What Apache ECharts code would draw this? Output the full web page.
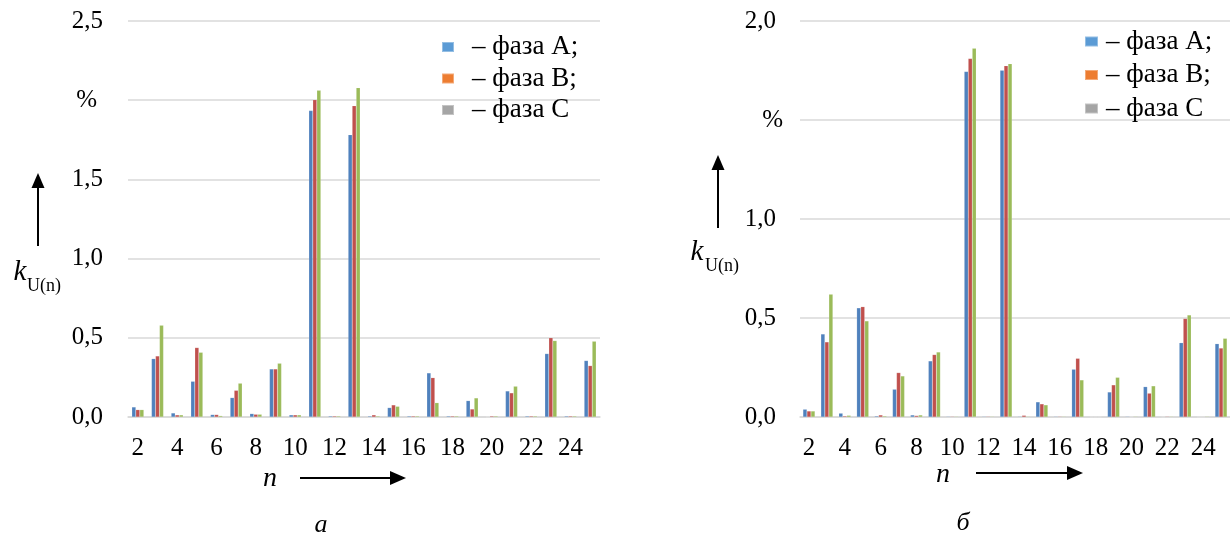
<!DOCTYPE html>
<html>
<head>
<meta charset="utf-8">
<script src="https://cdn.jsdelivr.net/npm/echarts@6/dist/echarts.min.js"></script>
<style>
html,body{margin:0;padding:0;background:#fff;}
#chart{width:1230px;height:538px;}
</style>
</head>
<body>
<div id="chart"></div>
<script>
// ---- data ----
const categories = ['2','3','4','5','6','7','8','9','10','11','12','13','14','15','16','17','18','19','20','21','22','23','24','25'];
const phaseNames = ['– фаза A;', '– фаза B;', '– фаза C'];
const leftA = [0.063,0.368,0.025,0.225,0.015,0.122,0.021,0.303,0.013,1.934,0.006,1.782,0.006,0.059,0.006,0.278,0.006,0.103,0,0.164,0.006,0.400,0.006,0.356];
const leftB = [0.046,0.385,0.013,0.438,0.015,0.168,0.017,0.303,0.013,2.003,0.006,1.965,0.013,0.076,0.006,0.248,0.006,0.050,0.006,0.152,0.006,0.500,0.006,0.324];
const leftC = [0.046,0.579,0.013,0.408,0.008,0.213,0.017,0.339,0.013,2.062,0.006,2.079,0.006,0.067,0.006,0.090,0.006,0.120,0.006,0.194,0.006,0.482,0.006,0.478];
const rightA = [0.039,0.419,0.019,0.551,0.005,0.140,0.010,0.283,0.003,1.745,0.003,1.751,0.003,0.076,0.003,0.241,0,0.126,0.003,0.153,0,0.375,0,0.370];
const rightB = [0.030,0.379,0.005,0.557,0.010,0.224,0.007,0.315,0.003,1.810,0.003,1.774,0.008,0.066,0.003,0.296,0,0.162,0,0.120,0.003,0.497,0,0.348];
const rightC = [0.030,0.620,0.008,0.485,0.005,0.207,0.010,0.328,0.003,1.862,0.003,1.784,0.003,0.061,0.003,0.187,0,0.200,0.003,0.157,0.003,0.515,0.003,0.397];
const leftTicks = {min: 0, max: 2.5, interval: 0.5, pct: 2.0};
const rightTicks = {min: 0, max: 2.0, interval: 0.5, pct: 1.5};
const panelLabels = ['а', 'б'];

// ---- styles ----
const barColors = ['#4F81BD', '#C0504D', '#9BBB59'];
const legendColors = ['#5B9BD5', '#ED7D31', '#A5A5A5'];
const FONT = 'Liberation Serif';
const gridColor = '#d9d9d9';
const AX = 25;   // axis label font size
const LG = 27;   // legend font size

function fmtNum(v){ return v.toFixed(1).replace('.', ','); }

function yAxisCfg(idx, t, numPad, pctPad, margin){
  return {
    type: 'value', gridIndex: idx, min: t.min, max: t.max, interval: t.interval,
    axisLine: {show: false}, axisTick: {show: false},
    splitLine: {lineStyle: {color: gridColor, width: 1.5}},
    axisLabel: {
      margin: margin, color: '#000', fontFamily: FONT, fontSize: AX,
      formatter: v => Math.abs(v - t.pct) < 1e-9 ? '{p|%}' : '{n|' + fmtNum(v) + '}',
      rich: {
        n: {fontFamily: FONT, fontSize: AX, color: '#000', padding: [0, numPad, 0, 0]},
        p: {fontFamily: FONT, fontSize: AX, color: '#000', padding: [0, pctPad, 0, 0]}
      }
    }
  };
}
function xAxisCfg(idx){
  return {
    type: 'category', gridIndex: idx, data: categories,
    axisLine: {lineStyle: {color: gridColor, width: 1.5}},
    axisTick: {show: false},
    axisLabel: {interval: 1, margin: 19, color: '#000', fontFamily: FONT, fontSize: AX}
  };
}
function barSeries(name, xi, data, ci){
  return {
    name: name, type: 'bar', xAxisIndex: xi, yAxisIndex: xi, data: data,
    barWidth: 4, barGap: '0%',
    itemStyle: {color: barColors[ci], borderColor: 'rgba(255,255,255,0.35)', borderWidth: 0.4},
    emphasis: {disabled: true}, animation: false
  };
}
function legendCfg(left, top, gap, w, pad){
  return {
    orient: 'vertical', left: left, top: top, itemGap: gap, padding: 0,
    itemWidth: w, itemHeight: 10, selectedMode: false, icon: 'rect',
    textStyle: {fontFamily: FONT, fontSize: LG, color: '#000', lineHeight: LG, padding: [0, 0, 0, pad]},
    data: phaseNames.map((n, i) => ({name: n, itemStyle: {color: legendColors[i]}}))
  };
}
function arrowV(x, tip, bottom){
  return [
    {type: 'line', shape: {x1: x, y1: bottom, x2: x, y2: tip + 12}, style: {stroke: '#000', lineWidth: 2}},
    {type: 'polygon', shape: {points: [[x, tip], [x - 6.5, tip + 15], [x + 6.5, tip + 15]]}, style: {fill: '#000'}}
  ];
}
function arrowH(y, x1, tip){
  return [
    {type: 'line', shape: {x1: x1, y1: y, x2: tip - 12, y2: y}, style: {stroke: '#000', lineWidth: 2}},
    {type: 'polygon', shape: {points: [[tip, y], [tip - 16, y - 7], [tip - 16, y + 7]]}, style: {fill: '#000'}}
  ];
}
function txt(x, y, s, size, italic, align){
  return {type: 'text', x: x, y: y, style: {text: s, fontFamily: FONT, fontSize: size,
    fontStyle: italic ? 'italic' : 'normal', fill: '#000', align: align || 'center', verticalAlign: 'middle'}};
}

const chart = echarts.init(document.getElementById('chart'), null, {renderer: 'canvas'});
chart.setOption({
  animation: false,
  backgroundColor: '#fff',
  textStyle: {fontFamily: FONT},
  grid: [
    {left: 128, right: 630, top: 21, bottom: 121},
    {left: 800, right: 0, top: 21, bottom: 121}
  ],
  xAxis: [xAxisCfg(0), xAxisCfg(1)],
  yAxis: [yAxisCfg(0, leftTicks, 0, 6, 25), yAxisCfg(1, rightTicks, 7, 0, 17)],
  legend: [legendCfg(441, 33.5, 4.5, 12, 13), legendCfg(1084, 28, 6.5, 13, 3)],
  series: [
    barSeries(phaseNames[0], 0, leftA, 0),
    barSeries(phaseNames[1], 0, leftB, 1),
    barSeries(phaseNames[2], 0, leftC, 2),
    barSeries(phaseNames[0], 1, rightA, 0),
    barSeries(phaseNames[1], 1, rightB, 1),
    barSeries(phaseNames[2], 1, rightC, 2)
  ],
  graphic: [].concat(
    arrowV(38, 173, 246),
    arrowV(718, 155, 228),
    arrowH(478, 300, 406),
    arrowH(473, 976, 1083),
    [
      txt(20, 272, 'k', 29, true),
      txt(27, 286, 'U(n)', 18, false, 'left'),
      txt(697, 252, 'k', 29, true),
      txt(705, 266, 'U(n)', 18, false, 'left'),
      txt(270, 479, 'n', 28, true),
      txt(943, 475, 'n', 28, true),
      txt(321, 525, panelLabels[0], 26, true),
      txt(963, 523, panelLabels[1], 26, true)
    ]
  )
});
</script>
</body>
</html>
